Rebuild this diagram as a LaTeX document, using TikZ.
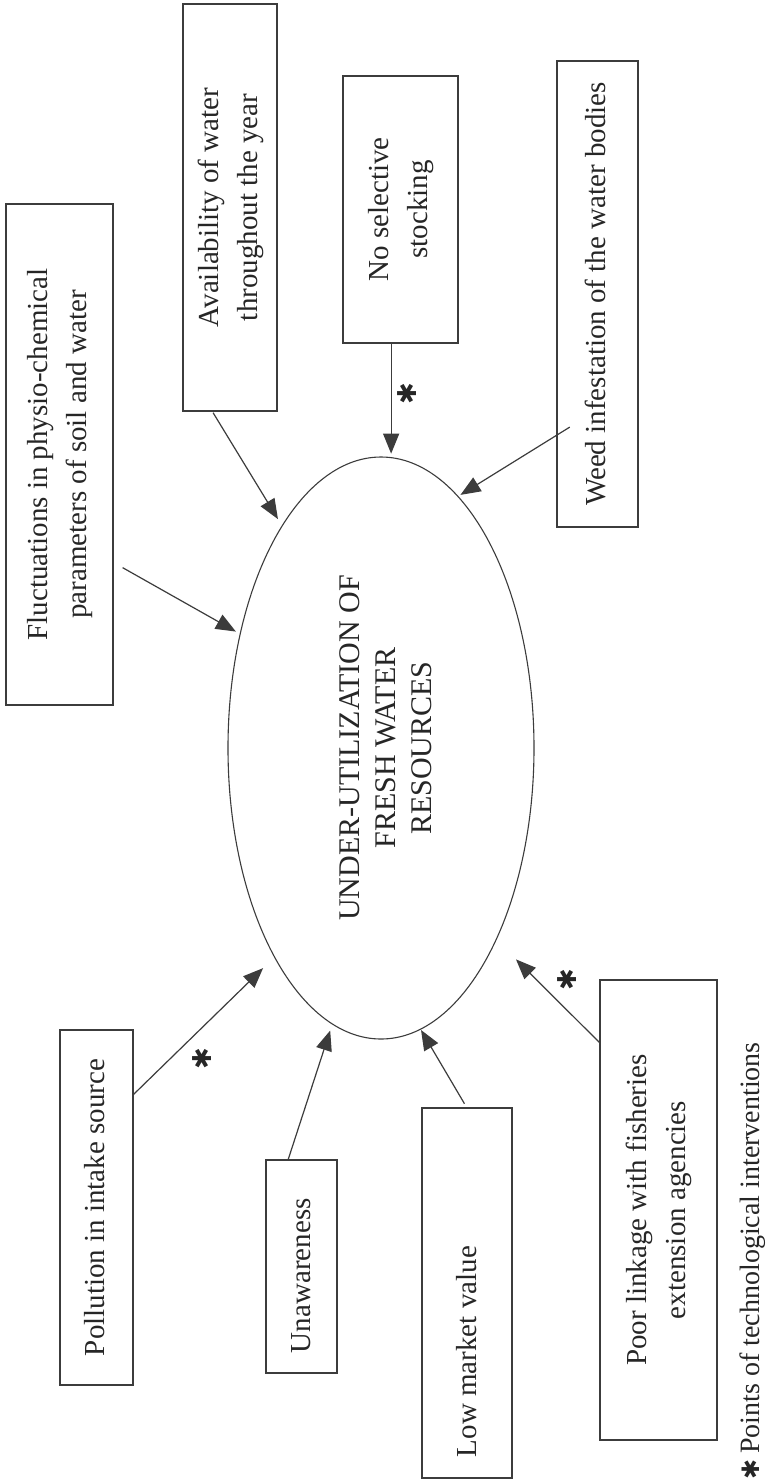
\documentclass[tikz,border=0pt]{standalone}
\usepackage{fontspec}
\setmainfont{Liberation Serif}
\newfontfamily\symfont{DejaVu Sans}
\usepackage{graphicx}
\usetikzlibrary{arrows.meta,calc,shapes.geometric}

\definecolor{ink}{HTML}{3C3C3C}
\definecolor{txt}{HTML}{262626}

% text set upright on the page, reading bottom to top
\newcommand\uprot[1]{\rotatebox{90}{\begin{tabular}{@{}c@{}}#1\end{tabular}}}
\newcommand\upleft[2]{\rotatebox{90}{\makebox[#1][l]{#2}}}

\tikzset{
  box/.style={draw=ink, line width=1.6pt, rectangle, inner sep=0pt, outer sep=0pt,
              text=txt, font=\fontsize{29}{39}\selectfont},
  hub/.style={draw=ink, line width=1.1pt, ellipse, minimum width=306pt, minimum height=582pt,
              inner sep=0pt, outer sep=0pt, text=txt, font=\fontsize{30}{36}\selectfont},
  link/.style={draw=ink, line width=1.2pt, -{Triangle[length=20pt,width=16pt]}},
  starmark/.style={text=txt, font=\symfont\fontsize{26}{26}\selectfont, rotate=90, inner sep=0pt},
}

\begin{document}
\begin{tikzpicture}[x=1pt, y=-1pt]
  \fill[white] (0,0) rectangle (767,1484);
  \useasboundingbox (0,0) rectangle (767,1484);

  % central problem
  \node[hub] (hub) at (381,748)
    {\hspace*{14pt}\uprot{UNDER-UTILIZATION OF\\FRESH WATER\\RESOURCES}};

  % causes above the problem
  \node[box, minimum width=107pt, minimum height=501pt] (fluct) at (59.5,454.5)
    {\uprot{Fluctuations in physio-chemical\\parameters of soil and water}};
  \node[box, minimum width=94pt, minimum height=407pt] (avail) at (230,207.5)
    {\uprot{Availability of water\\throughout the year}};
  \node[box, minimum width=115pt, minimum height=267pt] (nosel) at (400.5,209.5)
    {\uprot{No selective\\stocking}};
  \node[box, minimum width=81pt, minimum height=466pt] (weed) at (597.5,294)
    {\uprot{Weed infestation of the water bodies}};

  % causes below the problem
  \node[box, minimum width=73pt, minimum height=355pt] (poll) at (96.5,1207.5)
    {\uprot{Pollution in intake source}};
  \node[box, minimum width=71pt, minimum height=213pt] (unaw) at (301.5,1266.5)
    {\upleft{173pt}{Unawareness}};
  \node[box, minimum width=90pt, minimum height=370pt] (low) at (467,1293)
    {\upleft{328pt}{Low market value}};
  \node[box, minimum width=117pt, minimum height=460pt] (poor) at (658.5,1210)
    {\uprot{Poor linkage with fisheries\\extension agencies}};

  % connectors
  \draw[link, shorten <=11pt, shorten >=5pt]
    ($(fluct.north east)!0.715!(fluct.south east)$) -- (hub.141.1);
  \draw[link, shorten <=2pt, shorten >=8pt]
    ($(avail.south west)!0.309!(avail.south east)$) -- (hub.114.3);
  \draw[link, shorten >=4pt] (nosel.south -| hub.88.2) -- (hub.88.2);
  \draw[link, shorten <=-15pt, shorten >=3pt]
    ($(weed.north west)!0.8026!(weed.south west)$) -- (hub.73.0);
  \draw[link, shorten >=16pt]
    ($(poll.north east)!0.183!(poll.south east)$) -- (hub.-117.5);
  \draw[link, shorten >=7pt]
    ($(unaw.north west)!0.31!(unaw.north east)$) -- (hub.-100.3);
  \draw[link, shorten <=5pt, shorten >=1pt] (low.north) -- (hub.-82);
  \draw[link, shorten >=28pt]
    ($(poor.north west)!0.137!(poor.south west)$) -- (hub.-59.7);

  % intervention marks
  \node[starmark] (s1) at (407,394) {✱};
  \node[starmark] (s2) at (202,1059) {✱};
  \node[starmark] (s3) at (567,980) {✱};

  % key
  \node[rotate=90, anchor=base west, inner sep=0pt, text=txt,
        font=\fontsize{28}{28}\selectfont] (note) at (759,1480)
    {{\symfont\fontsize{24}{24}\selectfont ✱}\hspace{6pt}Points of technological interventions};
\end{tikzpicture}
\end{document}
